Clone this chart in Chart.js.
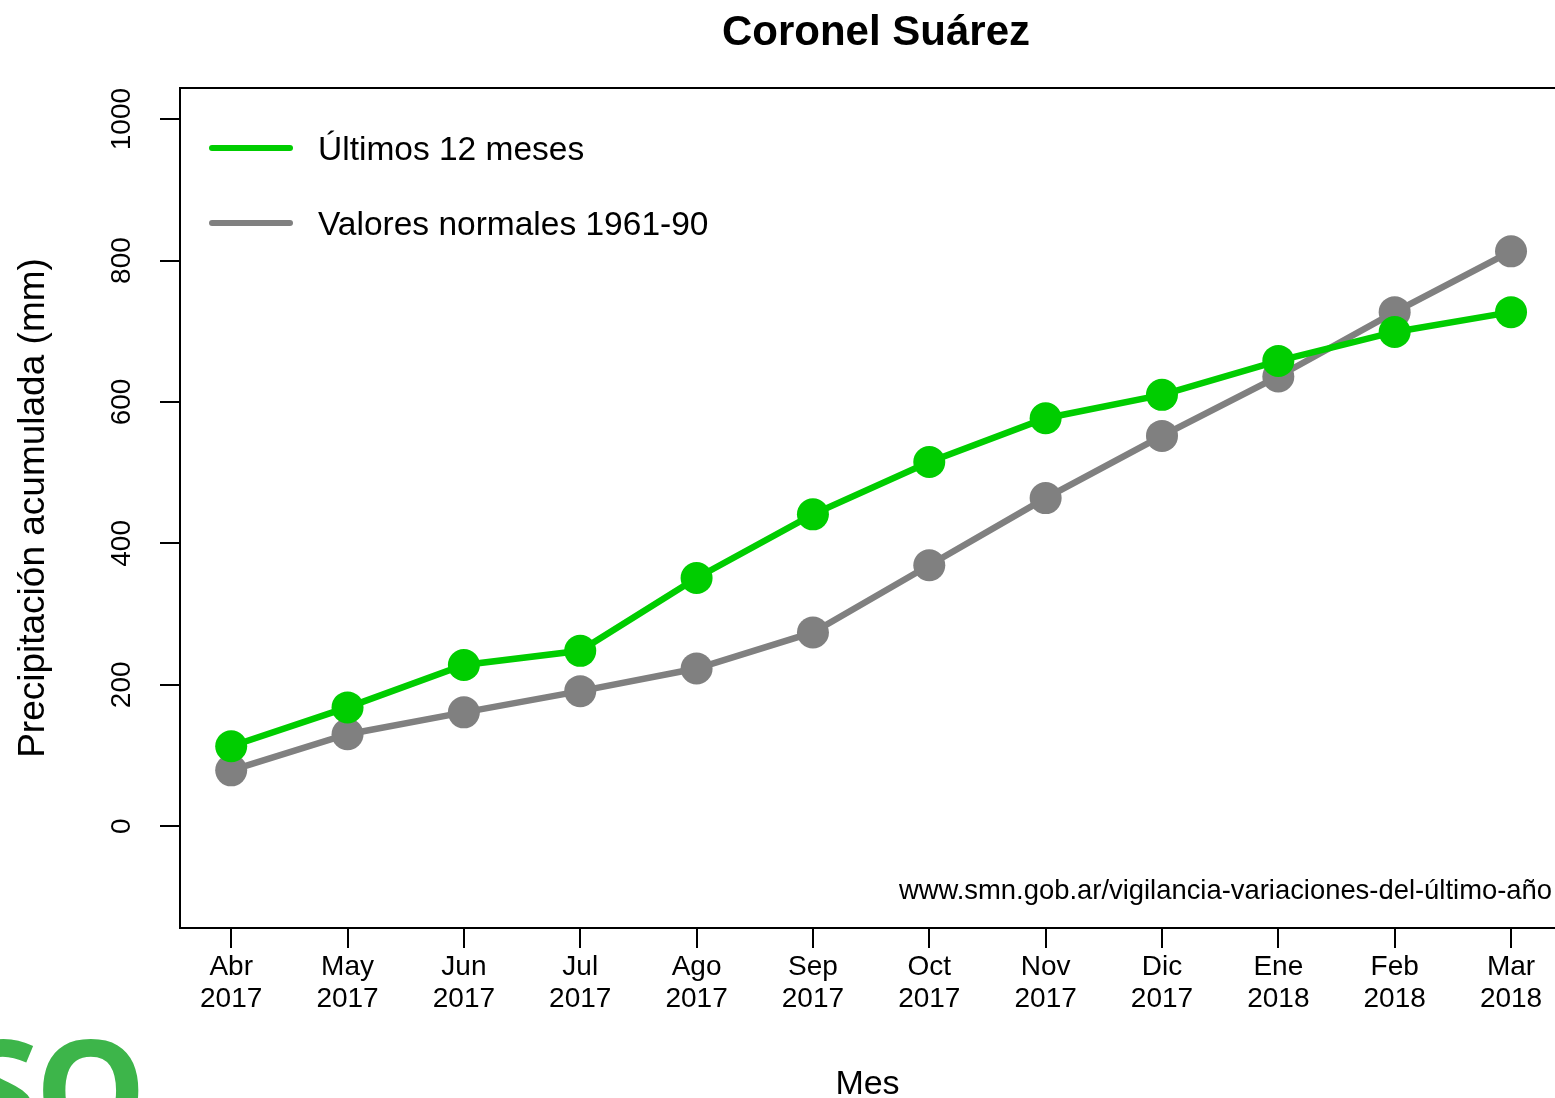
<!DOCTYPE html>
<html>
<head>
<meta charset="utf-8">
<script src="https://cdn.jsdelivr.net/npm/chart.js@4.4.1/dist/chart.umd.min.js"></script>
<style>
    html, body { margin: 0; padding: 0; background: #fff; overflow: hidden; }
    #wrap { position: relative; width: 1555px; height: 1098px; overflow: hidden; }
    #logo {
        position: absolute; left: -38px; top: 1017px;
        font: bold 140px "Open Sans", sans-serif; color: #3db54a;
        line-height: 1; letter-spacing: -4px;
    }
</style>
</head>
<body>
<div id="wrap">
    <canvas id="chart" width="1555" height="1098"></canvas>
    <div id="logo">SO</div>
</div>
<script>
/* ================================
   Data
================================ */
const months = ["Abr", "May", "Jun", "Jul", "Ago", "Sep", "Oct", "Nov", "Dic", "Ene", "Feb", "Mar"];
const years = ["2017", "2017", "2017", "2017", "2017", "2017", "2017", "2017", "2017", "2018", "2018", "2018"];
const last12 = [113, 168, 228, 248, 351, 441, 515, 577, 610, 658, 699, 727];
const normals = [79, 130, 161, 191, 223, 274, 369, 464, 552, 636, 727, 813];
const yTicks = [0, 200, 400, 600, 800, 1000];

const GREEN = "#00cd00";
const GRAY = "#808080";
const FONT = "'Liberation Sans', Arial, sans-serif";

function toPoints(values) {
    return values.map(function (v, i) {
        return { x: i, y: v };
    });
}

/* ================================
   Plugins: box, title, legend, source
================================ */
const decorations = {
    id: "decorations",
    afterDraw: function (chart) {
        const ctx = chart.ctx;
        const a = chart.chartArea;
        ctx.save();

        // box (left/top/bottom, right side is cut off)
        ctx.strokeStyle = "#000";
        ctx.lineWidth = 2;
        ctx.beginPath();
        ctx.moveTo(a.right + 2, a.top);
        ctx.lineTo(a.left, a.top);
        ctx.lineTo(a.left, a.bottom);
        ctx.lineTo(a.right + 2, a.bottom);
        ctx.stroke();

        // title
        ctx.fillStyle = "#000";
        ctx.font = "bold 42px " + FONT;
        ctx.textAlign = "center";
        ctx.textBaseline = "middle";
        ctx.fillText("Coronel Suárez", 876, 33);

        // legend
        const ds = chart.data.datasets;
        const rows = [151, 226];
        ctx.font = "33.5px " + FONT;
        ctx.textAlign = "left";
        ds.forEach(function (d, i) {
            ctx.strokeStyle = d.borderColor;
            ctx.lineWidth = 6;
            ctx.lineCap = "round";
            ctx.beginPath();
            ctx.moveTo(212, rows[i] - 3);
            ctx.lineTo(290, rows[i] - 3);
            ctx.stroke();
            ctx.fillStyle = "#000";
            ctx.fillText(d.label, 318, rows[i]);
        });

        // source
        ctx.font = "27.4px " + FONT;
        ctx.textAlign = "right";
        ctx.fillText("www.smn.gob.ar/vigilancia-variaciones-del-último-año", 1552, 891);
        ctx.restore();
    },
};

/* ================================
   Chart
================================ */
new Chart(document.getElementById("chart").getContext("2d"), {
    type: "line",
    data: {
        datasets: [{
            label: "Últimos 12 meses",
            data: toPoints(last12),
            borderColor: GREEN,
            backgroundColor: GREEN,
            pointBackgroundColor: GREEN,
            pointBorderWidth: 0,
            pointRadius: 16,
            borderWidth: 6.5,
            tension: 0,
        }, {
            label: "Valores normales 1961-90",
            data: toPoints(normals),
            borderColor: GRAY,
            backgroundColor: GRAY,
            pointBackgroundColor: GRAY,
            pointBorderWidth: 0,
            pointRadius: 16,
            borderWidth: 6.5,
            tension: 0,
        }],
    },
    options: {
        responsive: false,
        animation: false,
        layout: { autoPadding: false, padding: { top: 88, left: 0, right: 0, bottom: 0 } },
        plugins: {
            legend: { display: false },
            tooltip: { enabled: false },
        },
        scales: {
            x: {
                type: "linear",
                min: -0.44,
                max: 11.378,
                afterBuildTicks: function (scale) {
                    scale.ticks = months.map(function (m, i) {
                        return { value: i };
                    });
                },
                afterFit: function (scale) {
                    scale.height = 170;
                    scale.paddingLeft = 0;
                    scale.paddingRight = 0;
                },
                ticks: {
                    color: "#000",
                    font: { family: FONT, size: 28, lineHeight: 1.15 },
                    padding: 3,
                    maxRotation: 0,
                    autoSkip: false,
                    callback: function (value) {
                        return [months[value], years[value]];
                    },
                },
                grid: { drawOnChartArea: false, drawTicks: true, tickLength: 20, color: "#000", lineWidth: 2 },
                border: { display: false },
                title: {
                    display: true,
                    text: "Mes",
                    color: "#000",
                    font: { family: FONT, size: 34, lineHeight: 0.8 },
                    padding: { top: 0, bottom: 0 },
                },
            },
            y: {
                min: -144,
                max: 1044,
                afterBuildTicks: function (scale) {
                    scale.ticks = yTicks.map(function (v) {
                        return { value: v };
                    });
                },
                afterFit: function (scale) {
                    scale.width = 180;
                    scale.paddingTop = 0;
                    scale.paddingBottom = 0;
                },
                ticks: {
                    color: "#000",
                    font: { family: FONT, size: 28 },
                    minRotation: 90,
                    maxRotation: 90,
                    crossAlign: "center",
                    padding: 7,
                    callback: function (value) {
                        return String(value);
                    },
                },
                grid: { drawOnChartArea: false, drawTicks: true, tickLength: 20, color: "#000", lineWidth: 2 },
                border: { display: false },
                title: {
                    display: true,
                    text: "Precipitación acumulada (mm)",
                    color: "#000",
                    font: { family: FONT, size: 37, lineHeight: 1.2 },
                    padding: { top: 12, bottom: 0 },
                },
            },
        },
    },
    plugins: [decorations],
});
</script>
</body>
</html>
